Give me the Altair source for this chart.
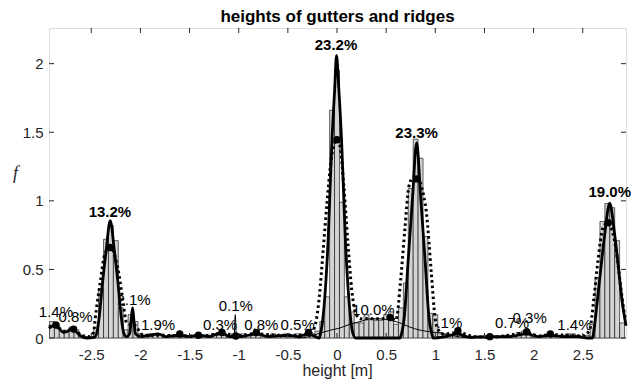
import altair as alt
import pandas as pd

# ---------------- data ----------------
bin_width = 0.05
hist_values = [
    0.12, 0.10, 0.05, 0.04, 0.08, 0.06, 0.02, 0.01, 0.01, 0.08,
    0.36, 0.72, 0.82, 0.71, 0.22, 0.06, 0.17, 0.12, 0.03, 0.02,
    0.03, 0.02, 0.02, 0.01, 0.02, 0.02, 0.03, 0.02, 0.01, 0.02,
    0.01, 0.02, 0.02, 0.03, 0.04, 0.03, 0.02, 0.03, 0.02, 0.03,
    0.02, 0.04, 0.03, 0.02, 0.02, 0.03, 0.02, 0.02, 0.03, 0.02,
    0.03, 0.02, 0.04, 0.03, 0.05, 0.12, 0.30, 1.66, 1.95, 0.99,
    0.30, 0.19, 0.11, 0.11, 0.17, 0.14, 0.13, 0.13, 0.17, 0.19,
    0.10, 0.22, 0.40, 1.09, 1.45, 1.31, 0.74, 0.18, 0.17, 0.04,
    0.03, 0.02, 0.03, 0.02, 0.01, 0.01, 0.01, 0.01, 0.00, 0.01,
    0.01, 0.01, 0.02, 0.02, 0.02, 0.04, 0.05, 0.03, 0.01, 0.01,
    0.01, 0.02, 0.01, 0.01, 0.02, 0.03, 0.03, 0.02, 0.01, 0.02,
    0.10, 0.44, 0.85, 0.98, 0.95, 0.71, 0.11,
]
bin_centers = [round(-2.9 + bin_width * i, 2) for i in range(len(hist_values))]

# thick solid curve (main components)
solid_x = [-2.93, -2.90, -2.87, -2.83, -2.78, -2.74, -2.70, -2.66, -2.61, -2.55,
           -2.47, -2.444, -2.419, -2.386, -2.348, -2.307, -2.266, -2.228, -2.195, -2.17,
           -2.14, -2.11, -2.095, -2.08, -2.065, -2.05, -2.0, -1.9, -1.82, -1.74,
           -1.6, -1.5, -1.41, -1.3, -1.17, -1.1, -0.98, -0.82, -0.7, -0.5,
           -0.4, -0.29, -0.22, -0.18, -0.166, -0.132, -0.11, -0.09, -0.07, -0.051,
           -0.024, -0.005, 0.019, 0.046, 0.065, 0.085, 0.105, 0.127, 0.161, 0.19,
           0.64, 0.658, 0.688, 0.722, 0.769, 0.81, 0.851, 0.898, 0.932, 0.962,
           0.98, 1.1, 1.23, 1.35, 1.55, 1.75, 1.93, 2.05, 2.17, 2.3,
           2.45, 2.55, 2.60, 2.614, 2.649, 2.686, 2.725, 2.774, 2.823, 2.862,
           2.899, 2.94]
solid_y = [0.07, 0.085, 0.09, 0.07, 0.04, 0.05, 0.065, 0.05, 0.015, 0.0,
           0.005, 0.036, 0.155, 0.40, 0.642, 0.856, 0.642, 0.40, 0.155, 0.036,
           0.01, 0.03, 0.12, 0.22, 0.12, 0.03, 0.01, 0.02, 0.03, 0.01,
           0.02, 0.01, 0.02, 0.01, 0.04, 0.01, 0.01, 0.03, 0.01, 0.02,
           0.01, 0.03, 0.01, 0.0, 0.036, 0.227, 0.45, 0.715, 1.1, 1.445,
           1.81, 2.06, 1.81, 1.445, 1.1, 0.715, 0.45, 0.227, 0.036, 0.0,
           0.0, 0.036, 0.18, 0.545, 1.03, 1.425, 1.03, 0.545, 0.18, 0.036,
           0.0, 0.01, 0.03, 0.005, 0.01, 0.01, 0.03, 0.01, 0.02, 0.01,
           0.01, 0.0, 0.0, 0.058, 0.277, 0.52, 0.765, 0.983, 0.765, 0.52,
           0.277, 0.09]

# dotted curve
dotted_x = [-2.93, -2.87, -2.78, -2.68, -2.6, -2.52, -2.48, -2.45, -2.41, -2.37,
            -2.34, -2.307, -2.27, -2.22, -2.18, -2.14, -2.1, -2.07, -2.04, -1.97,
            -1.8, -1.6, -1.4, -1.17, -1.0, -0.82, -0.6, -0.45, -0.3, -0.26,
            -0.22, -0.18, -0.14, -0.1, -0.06, -0.02, 0.0, 0.03, 0.07, 0.11,
            0.15, 0.19, 0.24, 0.35, 0.45, 0.54, 0.6, 0.647, 0.69, 0.73,
            0.77, 0.81, 0.86, 0.91, 0.96, 0.996, 1.03, 1.08, 1.23, 1.4,
            1.555, 1.75, 1.93, 2.05, 2.17, 2.35, 2.5, 2.57, 2.615, 2.656,
            2.70, 2.73, 2.76, 2.80, 2.84, 2.89, 2.93, 2.94]
dotted_y = [0.08, 0.095, 0.05, 0.065, 0.02, 0.01, 0.036, 0.2, 0.4, 0.59,
            0.645, 0.66, 0.62, 0.47, 0.28, 0.11, 0.1, 0.1, 0.08, 0.02,
            0.02, 0.015, 0.015, 0.03, 0.02, 0.03, 0.02, 0.02, 0.03, 0.04,
            0.1, 0.3, 0.65, 1.0, 1.3, 1.43, 1.445, 1.4, 1.1, 0.7,
            0.35, 0.18, 0.14, 0.14, 0.14, 0.15, 0.13, 0.42, 0.79, 1.1,
            1.17, 1.18, 1.1, 0.91, 0.47, 0.155, 0.06, 0.03, 0.04, 0.01,
            0.005, 0.02, 0.04, 0.015, 0.025, 0.02, 0.015, 0.058, 0.3, 0.57,
            0.79, 0.83, 0.84, 0.78, 0.64, 0.35, 0.155, 0.13]

# thin curves (wide component and narrow spike)
thin_group = ["wide"] * 19 + ["spike"] * 3
thin_x = [-0.4, -0.3, -0.24, -0.17, -0.05, 0.03, 0.13, 0.234, 0.35, 0.44,
          0.54, 0.64, 0.74, 0.84, 0.95, 1.05, 1.15, 1.25, 1.4,
          -1.045, -1.035, -1.025]
thin_y = [0.0, 0.008, 0.02, 0.036, 0.06, 0.073, 0.1, 0.12, 0.14, 0.14,
          0.13, 0.11, 0.08, 0.058, 0.045, 0.036, 0.02, 0.008, 0.0,
          0.0, 0.17, 0.0]

# component means (filled circles)
circle_x = [-2.86, -2.68, -2.31, -1.6, -1.41, -1.17, -1.03, -0.82, -0.29, 0.0,
            0.54, 0.81, 1.23, 1.555, 1.93, 2.17, 2.76]
circle_y = [0.095, 0.065, 0.66, 0.03, 0.02, 0.04, 0.015, 0.04, 0.04, 1.445,
            0.15, 1.16, 0.053, 0.01, 0.046, 0.03, 0.84]

# percentage labels
small_text = ["1.4%", "0.8%", "2.1%", "1.9%", "0.3%", "0.1%", "0.8%", "0.5%",
              "10.0%", "2.1%", "0.7%", "0.3%", "1.4%"]
small_x = [-2.86, -2.66, -2.07, -1.82, -1.19, -1.03, -0.77, -0.40,
           0.37, 1.10, 1.78, 1.96, 2.415]
small_y = [0.155, 0.12, 0.24, 0.06, 0.06, 0.2, 0.06, 0.06,
           0.17, 0.07, 0.07, 0.11, 0.06]
big_text = ["13.2%", "23.2%", "23.3%", "19.0%"]
big_x = [-2.31, -0.01, 0.81, 2.775]
big_y = [0.885, 2.1, 1.46, 1.03]

x_ticks = [-2.5, -2.0, -1.5, -1.0, -0.5, 0.0, 0.5, 1.0, 1.5, 2.0, 2.5]
y_ticks = [0.0, 0.5, 1.0, 1.5, 2.0]

title_text = ["heights of gutters and ridges"]
xlabel_text = ["height [m]"]

# ---------------- tables ----------------
hist_df = pd.DataFrame({
    "x0": [c - bin_width / 2 for c in bin_centers],
    "x1": [c + bin_width / 2 for c in bin_centers],
    "y": hist_values,
})
solid_df = pd.DataFrame({"x": solid_x, "y": solid_y})
dotted_df = pd.DataFrame({"x": dotted_x, "y": dotted_y})
thin_df = pd.DataFrame({"x": thin_x, "y": thin_y, "g": thin_group})
circle_df = pd.DataFrame({"x": circle_x, "y": circle_y})
small_df = pd.DataFrame({"x": small_x, "y": small_y, "t": small_text})
big_df = pd.DataFrame({"x": big_x, "y": big_y, "t": big_text})
xt_df = pd.DataFrame({"x": x_ticks})
yt_df = pd.DataFrame({"y": y_ticks})

W, H = 577, 310
FONT = "Liberation Sans"
AX = "#262626"

xscale = alt.Scale(domain=[-2.93, 2.94], nice=False, zero=False)
yscale = alt.Scale(domain=[0, 2.26], nice=False, zero=False)
xaxis = alt.Axis(values=x_ticks, labelExpr="toString(datum.value)", ticks=False, tickSize=0,
                 domain=False, grid=False, labelFont=FONT, labelFontSize=15, labelColor=AX,
                 labelPadding=9, title="")
yaxis = alt.Axis(values=y_ticks, labelExpr="toString(datum.value)", ticks=False, tickSize=0,
                 domain=False, grid=False, labelFont=FONT, labelFontSize=15, labelColor=AX,
                 labelPadding=6, title="f", titleFont="Liberation Serif", titleFontSize=18,
                 titleFontStyle="italic", titleFontWeight="normal", titleColor=AX,
                 titleAngle=0, titleAlign="center", titleBaseline="middle",
                 titleX=-34, titleY=145)


def X(field="x"):
    return alt.X(f"{field}:Q", scale=xscale, axis=xaxis)


def Y(field="y"):
    return alt.Y(f"{field}:Q", scale=yscale, axis=yaxis)


small_labels = alt.Chart(small_df).mark_text(
    font=FONT, fontSize=15, align="center", baseline="alphabetic", color="black"
).encode(x=X(), y=Y(), text="t:N")

big_labels = alt.Chart(big_df).mark_text(
    font=FONT, fontSize=15, fontWeight="bold", align="center", baseline="alphabetic", color="black"
).encode(x=X(), y=Y(), text="t:N")

bars = alt.Chart(hist_df).mark_rect(
    fill="#d4d4d4", stroke="black", strokeWidth=0.6
).encode(x=X("x0"), x2="x1:Q", y=Y(), y2=alt.datum(0))

thin = alt.Chart(thin_df).mark_line(
    color="black", strokeWidth=1, interpolate="monotone"
).encode(x=X(), y=Y(), detail="g:N")

dotted = alt.Chart(dotted_df).mark_line(
    color="black", strokeWidth=3, strokeDash=[2.5, 3], interpolate="monotone"
).encode(x=X(), y=Y())

solid = alt.Chart(solid_df).mark_line(
    color="black", strokeWidth=2.8, interpolate="monotone"
).encode(x=X(), y=Y())

circles = alt.Chart(circle_df).mark_circle(
    color="black", size=55, opacity=1
).encode(x=X(), y=Y())

top_ticks = alt.Chart(xt_df).mark_rule(color=AX, strokeWidth=1).encode(
    x=X(), y=alt.value(0), y2=alt.value(5))
bottom_ticks = alt.Chart(xt_df).mark_rule(color=AX, strokeWidth=1).encode(
    x=X(), y=alt.value(H), y2=alt.value(H - 5))
left_ticks = alt.Chart(yt_df).mark_rule(color=AX, strokeWidth=1).encode(
    y=Y(), x=alt.value(0), x2=alt.value(5))
right_ticks = alt.Chart(yt_df).mark_rule(color=AX, strokeWidth=1).encode(
    y=Y(), x=alt.value(W), x2=alt.value(W - 5))

title_mark = alt.Chart(pd.DataFrame({"t": title_text})).mark_text(
    font=FONT, fontSize=17, fontWeight="bold", color="black",
    align="center", baseline="alphabetic"
).encode(text="t:N", x=alt.value(W / 2), y=alt.value(-6))

xlabel_mark = alt.Chart(pd.DataFrame({"t": xlabel_text})).mark_text(
    font=FONT, fontSize=16, color=AX, align="center", baseline="alphabetic"
).encode(text="t:N", x=alt.value(W / 2), y=alt.value(H + 38))

chart = alt.layer(
    small_labels, big_labels, bars, thin, dotted, solid, circles,
    top_ticks, bottom_ticks, left_ticks, right_ticks, title_mark, xlabel_mark,
).properties(
    width=W, height=H,
    autosize=alt.AutoSizeParams(type="none"),
    padding={"left": 41, "top": 20, "right": 5, "bottom": 41},
).configure_view(
    stroke="#555555", strokeWidth=1
).configure(background="white")

chart.save("out.html", embed_options={"renderer": "svg", "actions": False})
